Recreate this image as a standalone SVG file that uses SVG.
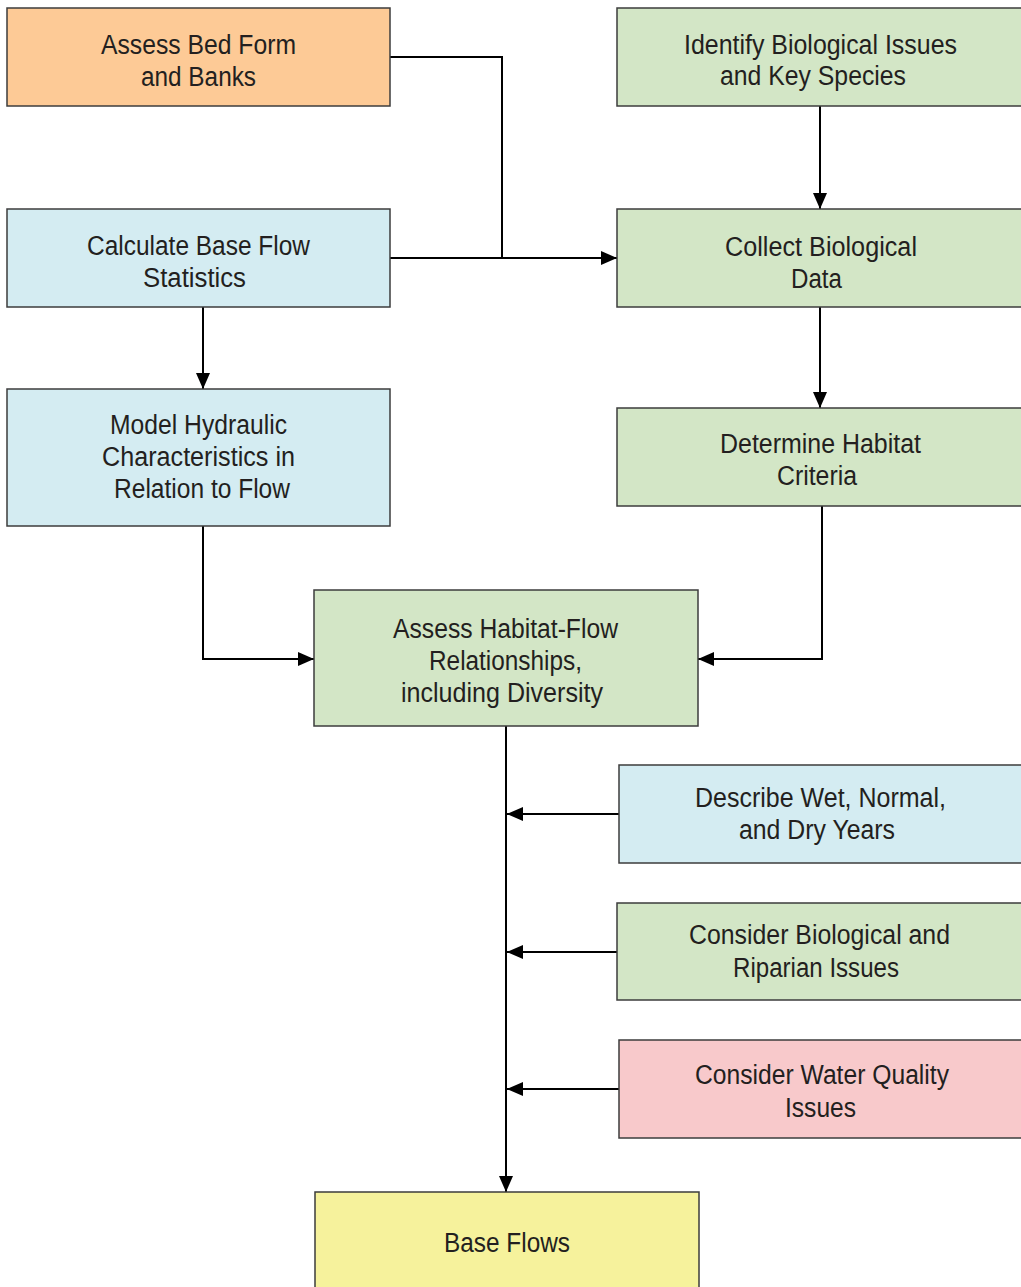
<svg xmlns="http://www.w3.org/2000/svg" width="1021" height="1287" viewBox="0 0 1021 1287">
  <style>
    .box { stroke: #3c3c3c; stroke-width: 1.5; }
    .orange { fill: #FDCA96; }
    .green { fill: #D3E6C6; }
    .blue { fill: #D4ECF2; }
    .pink { fill: #F8C9CB; }
    .yellow { fill: #F6F29C; }
    .label { font-family: "Liberation Sans", Arial, sans-serif; font-size: 27px; fill: #231F20; text-anchor: middle; }
    .wire { fill: none; stroke: #000; stroke-width: 2; }
  </style>
  <defs>
    <marker id="arrow" viewBox="0 0 16 14" refX="16" refY="7" markerWidth="16" markerHeight="14" markerUnits="userSpaceOnUse" orient="auto">
      <path d="M0,0 L16,7 L0,14 z" fill="#000"/>
    </marker>
  </defs>
  <rect width="1021" height="1287" fill="#fff"/>

  <g id="connectors">
    <path class="wire" d="M390,57 H502 V258"/>
    <path class="wire" d="M390,258 H617" marker-end="url(#arrow)"/>
    <path class="wire" d="M820,106 V209" marker-end="url(#arrow)"/>
    <path class="wire" d="M820,307 V408" marker-end="url(#arrow)"/>
    <path class="wire" d="M822,506 V659 H698" marker-end="url(#arrow)"/>
    <path class="wire" d="M203,307 V389" marker-end="url(#arrow)"/>
    <path class="wire" d="M203,526 V659 H314" marker-end="url(#arrow)"/>
    <path class="wire" d="M506,726 V1192" marker-end="url(#arrow)"/>
    <path class="wire" d="M619,814 H507" marker-end="url(#arrow)"/>
    <path class="wire" d="M617,952 H507" marker-end="url(#arrow)"/>
    <path class="wire" d="M619,1089 H507" marker-end="url(#arrow)"/>
  </g>

  <g id="assess-bed-form">
    <rect class="box orange" x="7" y="8" width="383" height="98"/>
    <text class="label" x="198.5" y="54" textLength="195" lengthAdjust="spacingAndGlyphs">Assess Bed Form</text>
    <text class="label" x="198.5" y="86" textLength="115" lengthAdjust="spacingAndGlyphs">and Banks</text>
  </g>

  <g id="identify-issues">
    <rect class="box green" x="617" y="8" width="410" height="98"/>
    <text class="label" x="820.5" y="54" textLength="273" lengthAdjust="spacingAndGlyphs">Identify Biological Issues</text>
    <text class="label" x="813" y="85" textLength="186" lengthAdjust="spacingAndGlyphs">and Key Species</text>
  </g>

  <g id="calculate-base-flow">
    <rect class="box blue" x="7" y="209" width="383" height="98"/>
    <text class="label" x="198.5" y="255" textLength="223" lengthAdjust="spacingAndGlyphs">Calculate Base Flow</text>
    <text class="label" x="194.5" y="287" textLength="103" lengthAdjust="spacingAndGlyphs">Statistics</text>
  </g>

  <g id="collect-data">
    <rect class="box green" x="617" y="209" width="410" height="98"/>
    <text class="label" x="821" y="256" textLength="192" lengthAdjust="spacingAndGlyphs">Collect Biological</text>
    <text class="label" x="816.5" y="288" textLength="51" lengthAdjust="spacingAndGlyphs">Data</text>
  </g>

  <g id="model-hydraulic">
    <rect class="box blue" x="7" y="389" width="383" height="137"/>
    <text class="label" x="198.5" y="434" textLength="177" lengthAdjust="spacingAndGlyphs">Model Hydraulic</text>
    <text class="label" x="198.5" y="466" textLength="193" lengthAdjust="spacingAndGlyphs">Characteristics in</text>
    <text class="label" x="202" y="498" textLength="176" lengthAdjust="spacingAndGlyphs">Relation to Flow</text>
  </g>

  <g id="habitat-criteria">
    <rect class="box green" x="617" y="408" width="410" height="98"/>
    <text class="label" x="820.5" y="453" textLength="201" lengthAdjust="spacingAndGlyphs">Determine Habitat</text>
    <text class="label" x="817" y="485" textLength="80" lengthAdjust="spacingAndGlyphs">Criteria</text>
  </g>

  <g id="habitat-flow">
    <rect class="box green" x="314" y="590" width="384" height="136"/>
    <text class="label" x="505.5" y="638" textLength="225" lengthAdjust="spacingAndGlyphs">Assess Habitat-Flow</text>
    <text class="label" x="505.5" y="670" textLength="153" lengthAdjust="spacingAndGlyphs">Relationships,</text>
    <text class="label" x="502" y="702" textLength="202" lengthAdjust="spacingAndGlyphs">including Diversity</text>
  </g>

  <g id="wet-normal-dry">
    <rect class="box blue" x="619" y="765" width="408" height="98"/>
    <text class="label" x="820.5" y="807" textLength="251" lengthAdjust="spacingAndGlyphs">Describe Wet, Normal,</text>
    <text class="label" x="817" y="839" textLength="156" lengthAdjust="spacingAndGlyphs">and Dry Years</text>
  </g>

  <g id="riparian-issues">
    <rect class="box green" x="617" y="903" width="410" height="97"/>
    <text class="label" x="819.5" y="944" textLength="261" lengthAdjust="spacingAndGlyphs">Consider Biological and</text>
    <text class="label" x="816" y="977" textLength="166" lengthAdjust="spacingAndGlyphs">Riparian Issues</text>
  </g>

  <g id="water-quality">
    <rect class="box pink" x="619" y="1040" width="408" height="98"/>
    <text class="label" x="822" y="1084" textLength="254" lengthAdjust="spacingAndGlyphs">Consider Water Quality</text>
    <text class="label" x="820.5" y="1117" textLength="71" lengthAdjust="spacingAndGlyphs">Issues</text>
  </g>

  <g id="base-flows">
    <rect class="box yellow" x="315" y="1192" width="384" height="100"/>
    <text class="label" x="507" y="1252" textLength="126" lengthAdjust="spacingAndGlyphs">Base Flows</text>
  </g>
</svg>
